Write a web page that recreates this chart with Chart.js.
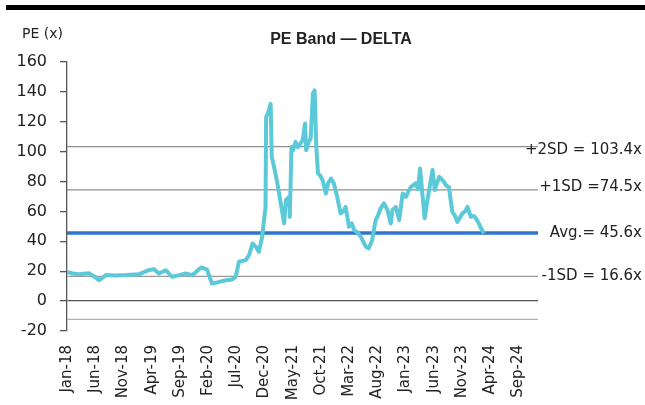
<!DOCTYPE html>
<html>
<head>
<meta charset="utf-8">
<script src="https://cdn.jsdelivr.net/npm/chart.js@4"></script>
<style>
  body { margin: 0; background: #fff; }
  #wrap { width: 645px; height: 405px; }
</style>
</head>
<body>
<div id="wrap"><canvas id="myChart" width="645" height="405"></canvas></div>
<script>
// month index 0 = Jan-18
const peMonths = [0, 1, 2.1, 3.9, 5.0, 5.7, 6.9, 8.5, 10.5, 12.8, 14.5, 15.4, 16.3, 17.5, 18.6, 19.9, 21, 22.2,
  23.8, 24.8, 25.7, 26.6, 28.2, 29.3, 29.9, 30.5, 31.7, 32.3, 32.9, 33.5, 34, 34.6, 35.2, 35.3, 35.8, 36.1, 36.3,
  36.7, 37.3, 37.9, 38.5, 38.8, 39.4, 39.5, 39.8, 40.1, 40.5, 40.9, 41.4, 41.8, 42.2, 42.4, 42.8, 43.2, 43.6,
  43.9, 44.2, 44.5, 44.9, 45.3, 45.9, 46.3, 46.8, 47.3, 47.9, 48.5, 49.0, 49.4, 50, 50.5, 50.9, 51.5, 52.1,
  53, 53.5, 54.1, 54.7, 55.1, 55.6, 56.2, 56.8, 57.4, 57.7, 58.3, 58.9, 59.5, 60.1, 60.6, 61, 61.8, 62.2,
  62.6, 63, 63.4, 63.9, 64.3, 64.8, 65.2, 65.6, 66, 66.8, 67.3, 67.7, 68.3, 68.8, 69.2, 70.1, 70.6, 71,
  71.6, 72.1, 72.5, 73.0, 73.4, 73.9];
const peValues = [19.5, 18.5, 18, 18.7, 16, 14, 17.4, 17.2, 17.4, 18, 20.7, 21.4, 18.5, 20.7, 16.3, 17.4, 18.5, 17.4,
  22.5, 21.2, 11.8, 12.5, 14, 14.5, 16.3, 26.3, 27.4, 31, 38.6, 36.3, 33, 43, 63, 123, 127.8, 132, 96.6,
  90, 78.8, 65.4, 52, 67.6, 69.8, 56.4, 103.3, 101, 106.6, 103, 105.5, 108, 118.9, 101, 106, 108.9, 139,
  141, 103, 85.5, 84, 81, 72, 79, 82, 78.8, 69.8, 58.7, 60, 63, 49.7, 52, 47.5, 46, 43,
  36.3, 35.3, 40.8, 54, 57, 62, 65.4, 61, 52, 61, 63, 54.2, 72, 69.8, 74, 76.5, 78.8, 75,
  88.8, 72, 55.4, 67.6, 76.5, 87.7, 74.3, 79, 83.2, 79.9, 77, 76.5, 59.8, 57, 53, 58.7, 60, 63,
  56.4, 57, 55.4, 52, 48.7, 45.3];

const bandValues = [103.4, 74.5, 45.6, 16.6, -12.2];
const bandLabels = ["+2SD = 103.4x", "+1SD =74.5x", "Avg.= 45.6x", "-1SD = 16.6x", ""];
const bandColors = ["#8f8f8f", "#8f8f8f", "#2f74cf", "#9a9a9a", "#b0b0b0"];
const bandWidths = [1.3, 1.3, 3.5, 1.3, 1.3];

const monthNames = ["Jan", "Feb", "Mar", "Apr", "May", "Jun", "Jul", "Aug", "Sep", "Oct", "Nov", "Dec"];
const tickMonths = [0, 5, 10, 15, 20, 25, 30, 35, 40, 45, 50, 55, 60, 65, 70, 75, 80];
const xMin = 0;
const xMax = 83.5;

function monthLabel(m) {
  const y = 18 + Math.floor(m / 12);
  return monthNames[m % 12] + "-" + y;
}

const peData = peMonths.map((m, i) => ({ x: m, y: peValues[i] }));

const datasets = [
  {
    label: "PE",
    data: peData,
    borderColor: "#5cc9d9",
    borderWidth: 4,
    pointRadius: 0,
    tension: 0,
    borderJoinStyle: "round",
  },
];

bandValues.forEach((v, i) => {
  datasets.push({
    label: bandLabels[i],
    data: [{ x: xMin, y: v }, { x: xMax, y: v }],
    borderColor: bandColors[i],
    borderWidth: bandWidths[i],
    pointRadius: 0,
  });
});

const textPlugin = {
  id: "peText",
  afterDraw(chart) {
    const c = chart.ctx;
    const yScale = chart.scales.y;
    c.save();
    // top bar
    c.fillStyle = "#000";
    c.fillRect(6, 5, 639, 5);
    // axis title
    c.fillStyle = "#222";
    c.font = "14px 'DejaVu Sans'";
    c.textAlign = "left";
    c.textBaseline = "middle";
    c.fillText("PE (x)", 22, 34);
    // title
    c.font = "bold 16px 'Liberation Sans'";
    c.textAlign = "center";
    c.fillText("PE Band \u2014 DELTA", 341, 40);
    // band labels
    c.font = "15px 'DejaVu Sans'";
    c.textAlign = "right";
    const offsets = [4, -3, 0, 0];
    bandLabels.forEach((t, i) => {
      if (!t) return;
      const y = yScale.getPixelForValue(bandValues[i]) + offsets[i];
      c.fillText(t, 642, y);
    });
    c.restore();
  },
};

const ctx = document.getElementById("myChart").getContext("2d");

const myChart = new Chart(ctx, {
  type: "line",
  data: { datasets },
  options: {
    responsive: false,
    animation: false,
    devicePixelRatio: 1,
    layout: { padding: { top: 62, right: 107, left: 0, bottom: 0 } },
    scales: {
      x: {
        type: "linear",
        min: xMin,
        max: xMax,
        afterBuildTicks(s) {
          s.ticks = tickMonths.map((m) => ({ value: m }));
        },
        afterFit(s) {
          s.height = 74;
        },
        grid: { display: false },
        border: { display: false },
        ticks: {
          autoSkip: false,
          maxRotation: 90,
          minRotation: 90,
          padding: 6,
          color: "#222",
          font: { family: "DejaVu Sans", size: 15 },
          callback: (v) => monthLabel(v),
        },
      },
      y: {
        min: -20,
        max: 160,
        afterFit(s) {
          s.width = 67;
        },
        grid: {
          color: (c) => (c.tick && c.tick.value === 0 ? "#555" : "transparent"),
          lineWidth: 1.3,
          tickLength: 7,
          tickColor: "#555",
          tickWidth: 1.3,
        },
        border: { color: "#555", width: 1.3 },
        ticks: {
          stepSize: 20,
          padding: 13,
          color: "#222",
          font: { family: "DejaVu Sans", size: 16 },
        },
      },
    },
    plugins: {
      legend: { display: false },
      title: { display: false },
      tooltip: { enabled: false },
    },
  },
  plugins: [textPlugin],
});
</script>
</body>
</html>
